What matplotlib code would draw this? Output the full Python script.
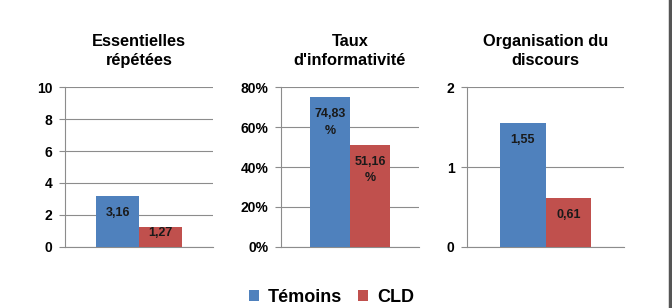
import matplotlib.pyplot as plt
from matplotlib.lines import Line2D
from matplotlib.patches import Patch

plt.rcParams['font.family'] = ['Liberation Sans', 'DejaVu Sans']

titles = ["Essentielles\nrépétées", "Taux\nd'informativité", "Organisation du\ndiscours"]
temoins = [3.16, 74.83, 1.55]
cld = [1.27, 51.16, 0.61]
labels_t = ["3,16", "74,83\n%", "1,55"]
labels_c = ["1,27", "51,16\n%", "0,61"]
yticks = [[0, 2, 4, 6, 8, 10], [0, 20, 40, 60, 80], [0, 1, 2]]
yticklabels = [["0", "2", "4", "6", "8", "10"],
               ["0%", "20%", "40%", "60%", "80%"],
               ["0", "1", "2"]]
series_names = ["Témoins", "CLD"]

blue = '#4F81BD'
red = '#C0504D'
grid_c = '#8C8C8C'

W, H = 672, 308
fig = plt.figure(figsize=(W / 100, H / 100), dpi=100)

# axes boxes in pixels: left, right
boxes = [(65, 213), (281, 419), (467, 624)]
top, bottom = 87, 247
bw = 0.29

for i, (l, r) in enumerate(boxes):
    ax = fig.add_axes([l / W, 1 - bottom / H, (r - l) / W, (bottom - top) / H])
    ymax = yticks[i][-1]
    ax.set_ylim(0, ymax)
    ax.set_xlim(-0.5, 0.5)
    ax.bar(-bw / 2, temoins[i], width=bw, color=blue, zorder=3)
    ax.bar(bw / 2, cld[i], width=bw, color=red, zorder=3)
    ax.set_yticks(yticks[i])
    ax.set_yticklabels(yticklabels[i], fontsize=10, fontweight='bold')
    ax.set_xticks([])
    ax.grid(axis='y', color=grid_c, linewidth=0.8, zorder=0)
    for s in ['top', 'right']:
        ax.spines[s].set_visible(False)
    for s in ['left', 'bottom']:
        ax.spines[s].set_color(grid_c)
        ax.spines[s].set_linewidth(0.8)
    ax.tick_params(axis='y', length=4, color=grid_c, width=0.8, pad=5)
    ax.set_title(titles[i], fontsize=11.8, fontweight='bold', pad=16, linespacing=1.3)

    px_per_unit = (bottom - top) / ymax
    for x, v, lab in [(-bw / 2, temoins[i], labels_t[i]), (bw / 2, cld[i], labels_c[i])]:
        bar_px = v * px_per_unit
        off = min(11, bar_px - 20)
        ax.annotate(lab, xy=(x, v), xytext=(0, -off * 0.72), textcoords='offset points',
                    ha='center', va='top', fontsize=9, fontweight='bold',
                    color='#1a1a1a', linespacing=1.5, zorder=4)

handles = [Patch(facecolor=blue), Patch(facecolor=red)]
fig.legend(handles, series_names, loc='center', bbox_to_anchor=(331.5 / W, 1 - 297 / H),
           ncol=2, frameon=False, handlelength=0.55, handleheight=0.55,
           handletextpad=0.5, columnspacing=0.9,
           prop={'size': 13, 'weight': 'bold'})

fig.add_artist(Line2D([669.5 / W, 669.5 / W], [0, 1], color='#555555', linewidth=2.5))

fig.savefig('out.png', dpi=100, facecolor='white')
